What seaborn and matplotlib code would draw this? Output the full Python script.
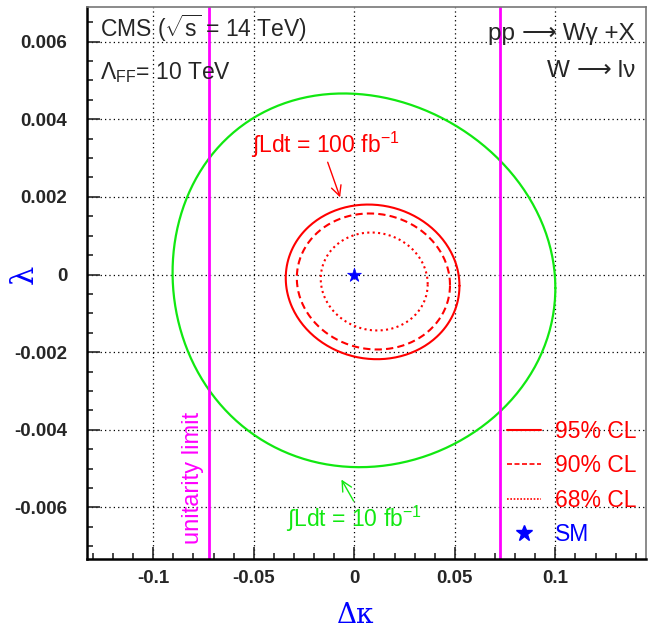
import numpy as np
import matplotlib
matplotlib.use('Agg')
import matplotlib.pyplot as plt
import seaborn as sns
from matplotlib.lines import Line2D
from matplotlib.ticker import MultipleLocator

# Contour ellipses (delta kappa, lambda)
cl_labels = ['95% CL', '90% CL', '68% CL']
cl_styles = ['-', (0, (3.5, 2.0)), (0, (1.0, 1.6))]
cl_center_dk = [0.0091, 0.0095, 0.0099]
cl_center_lam = [-0.00019, -0.00018, -0.00018]
cl_half_dk = [0.0432, 0.0381, 0.0266]
cl_half_lam = [0.00199, 0.00175, 0.00126]
cl_tilt = [-0.0001, -0.00009, -0.00007]

# 95% CL contour for 10 fb-1
lum10_center = [0.0048, -0.00015]
lum10_half = [0.0952, 0.00481]
lum10_tilt = -0.0002
lum10_pole_shift = -0.0062   # top/bottom of the contour sit left of its centre

# unitarity limit and SM point
unitarity_dk = [-0.0725, 0.0725]
sm_dk = [0.0]
sm_lam = [0.0]

x_ticks = [-0.1, -0.05, 0, 0.05, 0.1]
x_tick_labels = ['-0.1', '-0.05', '0', '0.05', '0.1']
y_ticks = [-0.006, -0.004, -0.002, 0, 0.002, 0.004, 0.006]
y_tick_labels = ['-0.006', '-0.004', '-0.002', '0', '0.002', '0.004', '0.006']

sns.set_style('ticks')
plt.rcParams['font.family'] = ['Liberation Sans', 'DejaVu Sans']
plt.rcParams['mathtext.fontset'] = 'custom'
plt.rcParams['mathtext.rm'] = 'Liberation Sans'
plt.rcParams['mathtext.it'] = 'Liberation Sans:italic'
plt.rcParams['mathtext.bf'] = 'Liberation Sans:bold'

RED = '#ff0000'
GREEN = '#11e811'
MAGENTA = '#ff00ff'
BLUE = '#0000ff'


def ellipse(cx, cy, a, b, m, k=0.0):
    t = np.linspace(0, 2 * np.pi, 300)
    return cx + a * np.cos(t) + k * np.sin(t) ** 2, cy + b * np.sin(t) + m * np.cos(t)


fig = plt.figure(figsize=(6.55, 6.31), dpi=100)
ax = fig.add_axes([0.1324, 0.1141, 0.8539, 0.8753])

# 10 fb-1 contour
gx, gy = ellipse(lum10_center[0], lum10_center[1], lum10_half[0], lum10_half[1],
                 lum10_tilt, lum10_pole_shift)
sns.lineplot(x=gx, y=gy, sort=False, estimator=None, color=GREEN, lw=1.6, ax=ax)

# 100 fb-1 contours
for i in range(3):
    ex, ey = ellipse(cl_center_dk[i], cl_center_lam[i], cl_half_dk[i], cl_half_lam[i], cl_tilt[i])
    sns.lineplot(x=ex, y=ey, sort=False, estimator=None, color=RED, lw=1.5,
                 linestyle=cl_styles[i], ax=ax)

for xv in unitarity_dk:
    ax.axvline(xv, color=MAGENTA, lw=2)

sns.scatterplot(x=sm_dk, y=sm_lam, marker='*', s=110, color=BLUE, edgecolor=BLUE,
                linewidth=0.5, zorder=5, ax=ax)

ax.set_xlim(-0.1331, 0.1451)
ax.set_ylim(-0.00733, 0.0069)
ax.set_xticks(x_ticks)
ax.set_xticklabels(x_tick_labels, fontsize=13.5, fontweight='bold')
ax.set_yticks(y_ticks)
ax.set_yticklabels(y_tick_labels, fontsize=13.5, fontweight='bold')
ax.xaxis.set_minor_locator(MultipleLocator(0.01))
ax.yaxis.set_minor_locator(MultipleLocator(0.0005))
ax.tick_params(which='both', direction='in', top=False, right=False, width=1.2)
ax.tick_params(which='major', length=9)
ax.tick_params(which='minor', length=4.5)
ax.tick_params(axis='x', pad=8)
ax.tick_params(axis='y', pad=14)

ax.grid(True, which='major', color='black', linestyle=(0, (1, 2.5)), lw=0.9)
ax.set_axisbelow(True)

for side in ['left', 'bottom']:
    ax.spines[side].set_color('black')
    ax.spines[side].set_linewidth(1.8)
for side in ['top', 'right']:
    ax.spines[side].set_color('#777777')
    ax.spines[side].set_linewidth(1.2)

ax.set_xlabel('Δκ', fontsize=20, color=BLUE, family=['DejaVu Serif'], va='center')
ax.xaxis.set_label_coords(0.48, -0.103)
ax.set_ylabel('λ', fontsize=22, color=BLUE, family=['DejaVu Serif'], va='center')
ax.yaxis.set_label_coords(-0.111, 0.516)

# text labels
ax.text(-0.1265, 0.00612, r'CMS ($\sqrt{\mathrm{s}}$ = 14 TeV)', fontsize=16.5, va='baseline')
ax.text(-0.1265, 0.00503, r'Λ$_{\mathrm{FF}}$= 10 TeV', fontsize=16.5, va='baseline')


def chain_text_right(x_right, y0, parts, size):
    # draw text pieces right to left on the same baseline
    x = x_right
    for s, fam in reversed(parts):
        t = ax.text(x, y0, s, fontsize=size, va='baseline', ha='right', family=fam)
        fig.canvas.draw()
        bb = t.get_window_extent()
        x = ax.transData.inverted().transform((bb.x0, bb.y0))[0]


chain_text_right(0.1397, 0.00604, [('pp ', ['Liberation Sans']), ('⟶', ['DejaVu Sans']),
                                   (' Wγ +X', ['Liberation Sans'])], 17.5)
chain_text_right(0.1397, 0.00509, [('W ', ['Liberation Sans']), ('⟶', ['DejaVu Sans']),
                                   (' lν', ['Liberation Sans'])], 17.5)

ax.text(-0.0515, 0.00313, r'∫Ldt = 100 fb$^{-1}$', fontsize=16.5, color=RED, va='baseline')
ax.annotate('', xy=(-0.0066, 0.00192), xytext=(-0.0137, 0.00296),
            arrowprops=dict(arrowstyle='->', color=RED, lw=1, mutation_scale=18))
ax.text(-0.034, -0.0065, r'∫Ldt = 10 fb$^{-1}$', fontsize=16.5, color=GREEN, va='baseline')
ax.annotate('', xy=(-0.0071, -0.00522), xytext=(0.00035, -0.0059),
            arrowprops=dict(arrowstyle='->', color=GREEN, lw=1, mutation_scale=18))

ax.text(-0.080, -0.00525, 'unitarity limit', fontsize=17, color=MAGENTA,
        rotation=90, ha='center', va='center')

handles = [Line2D([], [], color=RED, lw=1.5, linestyle=cl_styles[0]),
           Line2D([], [], color=RED, lw=1.2, linestyle=(0, (3, 1.5))),
           Line2D([], [], color=RED, lw=1.2, linestyle=(0, (1, 1))),
           Line2D([], [], color=BLUE, marker='*', markersize=12, linestyle='none')]
leg = ax.legend(handles, cl_labels + ['SM'], loc='center left',
                bbox_to_anchor=(0.751, 0.1378), frameon=False, fontsize=16.5,
                handlelength=1.5, handletextpad=0.6, labelspacing=0.5,
                borderpad=0, borderaxespad=0,
                labelcolor=[RED, RED, RED, BLUE])

fig.savefig('out.png', dpi=100)
